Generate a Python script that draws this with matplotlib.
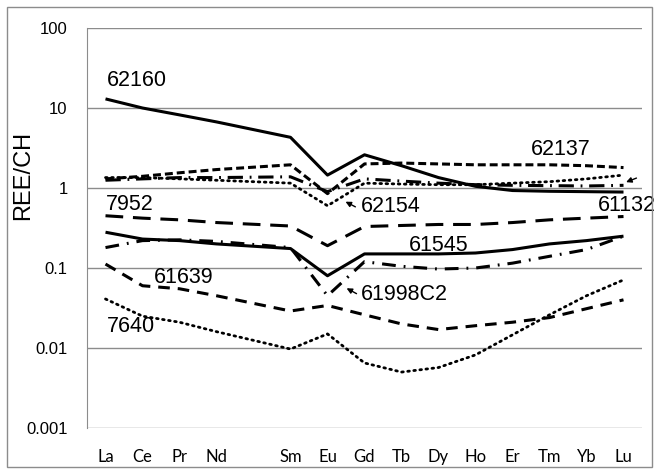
import numpy as np
import matplotlib
matplotlib.use("Agg")
from matplotlib import pyplot as plt
from matplotlib.patches import Rectangle

plt.rcParams['font.family'] = ['Liberation Sans', 'DejaVu Sans']

elements = ["La", "Ce", "Pr", "Nd", "", "Sm", "Eu", "Gd", "Tb", "Dy", "Ho", "Er", "Tm", "Yb", "Lu"]

# chondrite-normalised REE, Pm (blank column) has no value
s62160 = [13, 10, 8.2, 6.7, None, 4.3, 1.45, 2.6, 1.9, 1.35, 1.05, 0.93, 0.91, 0.9, 0.89]
s62137 = [1.3, 1.4, 1.55, 1.7, None, 1.95, 0.85, 2.0, 2.05, 2.0, 1.95, 1.95, 1.95, 1.9, 1.8]
s62154 = [1.35, 1.35, 1.3, 1.25, None, 1.15, 0.6, 1.15, 1.12, 1.1, 1.1, 1.15, 1.2, 1.3, 1.45]
s61132 = [1.25, 1.3, 1.35, 1.35, None, 1.38, 0.9, 1.3, 1.22, 1.15, 1.1, 1.08, 1.07, 1.06, 1.08]
s7952 = [0.45, 0.42, 0.4, 0.37, None, 0.335, 0.19, 0.33, 0.34, 0.35, 0.35, 0.37, 0.4, 0.42, 0.44]
s61545 = [0.28, 0.23, 0.22, 0.2, None, 0.175, 0.08, 0.15, 0.15, 0.15, 0.154, 0.17, 0.2, 0.22, 0.25]
s61998C2 = [0.18, 0.22, 0.225, 0.215, None, 0.18, 0.045, 0.12, 0.105, 0.097, 0.1, 0.115, 0.14, 0.17, 0.25]
s61639 = [0.112, 0.06, 0.055, 0.045, None, 0.029, 0.034, 0.026, 0.02, 0.017, 0.019, 0.021, 0.024, 0.031, 0.04]
s7640 = [0.041, 0.025, 0.021, 0.016, None, 0.0097, 0.015, 0.0065, 0.005, 0.0057, 0.0082, 0.0146, 0.026, 0.045, 0.071]

series = [
    (s62160, (0, ()), 2.2),
    (s62137, (0, (2.6, 1.3)), 2.2),
    (s62154, (0, (0.6, 1.6)), 2.0),
    (s61132, (0, (5.0, 2.2, 0.6, 2.2)), 2.2),
    (s7952, (0, (5.8, 3.2)), 2.2),
    (s61545, (0, ()), 2.2),
    (s61998C2, (0, (4.5, 2.6, 0.6, 2.6)), 2.2),
    (s61639, (0, (3.8, 2.6)), 2.2),
    (s7640, (0, (0.6, 1.6)), 2.0),
]

fig = plt.figure(figsize=(6.62, 4.70), dpi=100)
fig.patches.append(Rectangle((7 / 662, 3 / 470), 645 / 662, 460 / 470, transform=fig.transFigure,
                             fill=False, edgecolor='#8c8c8c', linewidth=1.0))
ax = fig.add_axes([87 / 662, 1 - 428 / 470, 555 / 662, 400 / 470])

for vals, ls, lw in series:
    xs = [i for i, v in enumerate(vals) if v is not None]
    ys = [v for v in vals if v is not None]
    ax.plot(xs, ys, color='black', linestyle=ls, linewidth=lw,
            dash_capstyle='round' if ls[1] and ls[1][0] < 1 else 'butt')

ax.set_yscale('log')
ax.set_ylim(0.001, 100)
ax.set_xlim(-0.5, len(elements) - 0.5)
ax.set_yticks([0.001, 0.01, 0.1, 1, 10, 100])
ax.set_yticklabels(["0.001", "0.01", "0.1", "1", "10", "100"], fontsize=12)
ax.yaxis.set_minor_locator(matplotlib.ticker.NullLocator())
ax.set_xticks(range(len(elements)))
ax.set_xticklabels(elements, fontsize=12, family=['Lato', 'DejaVu Sans'])
ax.tick_params(axis='both', length=0)
ax.tick_params(axis='y', pad=14)
ax.tick_params(axis='x', pad=15)
ax.grid(axis='y', color='#8c8c8c', linewidth=1.0)
for s in ['top', 'right', 'bottom']:
    ax.spines[s].set_visible(False)
ax.spines['left'].set_color('#8c8c8c')
fig.text(23 / 662, 1 - 175 / 470, "REE/CH", fontsize=17, rotation=90, ha='center', va='center')

lab = dict(fontsize=15.5, color='black')
ax.text(0.05, 19, "62160", **lab)
ax.text(11.5, 2.6, "62137", **lab)
ax.text(6.9, 0.59, "62154", va='center', **lab)
ax.text(0.0, 0.46, "7952", va='bottom', **lab)
ax.text(13.3, 0.6, "61132", va='center', **lab)
ax.text(8.2, 0.19, "61545", va='center', **lab)
ax.text(6.9, 0.046, "61998C2", va='center', **lab)
ax.text(1.3, 0.075, "61639", va='center', **lab)
ax.text(0.05, 0.0188, "7640", va='center', **lab)

arr = dict(arrowstyle='-|>', color='black', lw=1.0, mutation_scale=8)
ax.annotate("", xy=(6.42, 0.7), xytext=(6.82, 0.56), arrowprops=arr)
ax.annotate("", xy=(6.45, 0.058), xytext=(6.85, 0.046), arrowprops=arr)
ax.annotate("", xy=(14.0, 1.15), xytext=(14.42, 1.37), arrowprops=arr)

fig.savefig("out.png", dpi=100)
